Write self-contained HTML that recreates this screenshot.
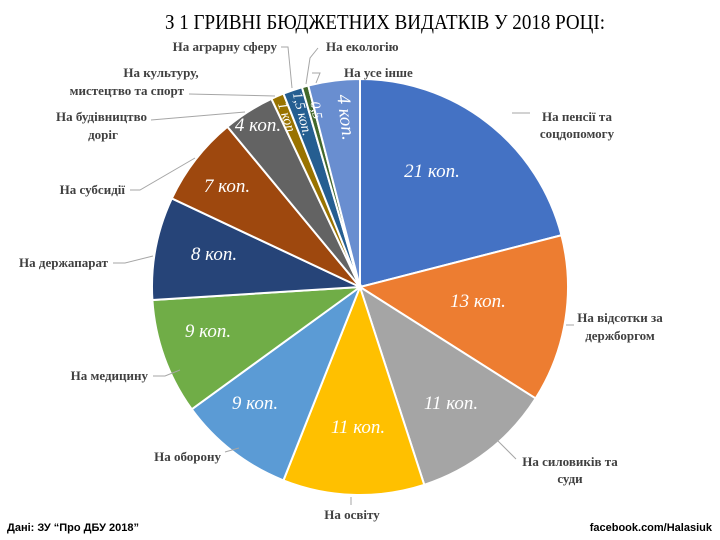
<!DOCTYPE html>
<html><head><meta charset="utf-8">
<style>
html,body{margin:0;padding:0;background:#fff;}
svg{display:block;}
.l{font-family:"Liberation Serif","DejaVu Serif",serif;font-weight:bold;font-size:13px;fill:#404040;}
.v{font-family:"Liberation Serif","DejaVu Serif",serif;font-style:italic;font-size:19px;fill:#fff;}
.s{font-family:"Liberation Serif","DejaVu Serif",serif;font-style:italic;font-size:14px;fill:#fff;}
.ld{stroke:#a6a6a6;stroke-width:1;fill:none;}
</style></head><body>
<svg id="c" width="720" height="540" viewBox="0 0 720 540" xmlns="http://www.w3.org/2000/svg">
<text x="385" y="29" text-anchor="middle" textLength="440" lengthAdjust="spacingAndGlyphs" font-family="Liberation Serif, DejaVu Serif, serif" font-size="21" fill="#000">З 1 ГРИВНІ БЮДЖЕТНИХ ВИДАТКІВ У 2018 РОЦІ:</text>
<g id="w"></g>
<text class="v" x="432" y="177" text-anchor="middle">21 коп.</text>
<text class="v" x="478" y="307" text-anchor="middle">13 коп.</text>
<text class="v" x="451" y="409" text-anchor="middle">11 коп.</text>
<text class="v" x="358" y="433" text-anchor="middle">11 коп.</text>
<text class="v" x="255" y="409" text-anchor="middle">9 коп.</text>
<text class="v" x="208" y="337" text-anchor="middle">9 коп.</text>
<text class="v" x="214" y="260" text-anchor="middle">8 коп.</text>
<text class="v" x="227" y="192" text-anchor="middle">7 коп.</text>
<text class="v" x="258" y="131" text-anchor="middle">4 коп.</text>
<text class="s" transform="translate(283,120) rotate(72)" text-anchor="middle">1 коп.</text>
<text class="s" transform="translate(298,115) rotate(76)" text-anchor="middle">1,5 коп.</text>
<text class="s" transform="translate(312,111) rotate(80)" text-anchor="middle" font-size="8">0,5</text>
<text class="v" transform="translate(340,118) rotate(83)" text-anchor="middle">4 коп.</text>
<path class="ld" d="M312,73 L320,73 L316,83"/>
<path class="ld" d="M318,48 L310,58 L306,84"/>
<path class="ld" d="M281,47 L288,47 L292,88"/>
<path class="ld" d="M189,94 L275,96"/>
<path class="ld" d="M151,120 L245,112"/>
<path class="ld" d="M130,190 L140,190 L195,158"/>
<path class="ld" d="M113,263 L125,263 L153,256"/>
<path class="ld" d="M512,113 L530,113"/>
<path class="ld" d="M566,325 L574,325"/>
<path class="ld" d="M497,440 L516,459"/>
<path class="ld" d="M351,497 L351,505"/>
<path class="ld" d="M225,452 L239,448"/>
<path class="ld" d="M153,376 L165,376 L180,370"/>
<text class="l" x="326" y="51">На екологію</text>
<text class="l" x="344" y="77">На усе інше</text>
<text class="l" x="277" y="51" text-anchor="end">На аграрну сферу</text>
<text class="l" x="161" y="77" text-anchor="middle">На культуру,</text>
<text class="l" x="184" y="95" text-anchor="end">мистецтво та спорт</text>
<text class="l" x="147" y="121" text-anchor="end">На будівництво</text>
<text class="l" x="103" y="139" text-anchor="middle">доріг</text>
<text class="l" x="125" y="194" text-anchor="end">На субсидії</text>
<text class="l" x="108" y="267" text-anchor="end">На держапарат</text>
<text class="l" x="148" y="380" text-anchor="end">На медицину</text>
<text class="l" x="221" y="461" text-anchor="end">На оборону</text>
<text class="l" x="352" y="519" text-anchor="middle">На освіту</text>
<text class="l" x="570" y="466" text-anchor="middle">На силовиків та</text>
<text class="l" x="570" y="483" text-anchor="middle">суди</text>
<text class="l" x="577" y="121" text-anchor="middle">На пенсії та</text>
<text class="l" x="577" y="138" text-anchor="middle">соцдопомогу</text>
<text class="l" x="620" y="322" text-anchor="middle">На відсотки за</text>
<text class="l" x="620" y="340" text-anchor="middle">держборгом</text>
<text x="7" y="531" font-family="Liberation Sans, sans-serif" font-weight="bold" font-size="11" fill="#000">Дані: ЗУ “Про ДБУ 2018”</text>
<text x="712" y="531" text-anchor="end" font-family="Liberation Sans, sans-serif" font-weight="bold" font-size="11" fill="#000">facebook.com/Halasiuk</text>
</svg>
<script>
var d=[[21,"#4472C4"],[13,"#ED7D31"],[11,"#A5A5A5"],[11,"#FFC000"],[9,"#5B9BD5"],[9,"#70AD47"],[8,"#264478"],[7,"#9E480E"],[4,"#636363"],[1,"#997300"],[1.5,"#255E91"],[0.5,"#43682B"],[4,"#698ED0"]];
var cx=360,cy=287,r=208,a=0,g=document.getElementById("w"),s="";
d.forEach(function(e){var a0=a*Math.PI/50,a1=(a+e[0])*Math.PI/50;a+=e[0];
var x0=cx+r*Math.sin(a0),y0=cy-r*Math.cos(a0),x1=cx+r*Math.sin(a1),y1=cy-r*Math.cos(a1);
s+='<path d="M'+cx+','+cy+' L'+x0+','+y0+' A'+r+','+r+' 0 '+(e[0]>50?1:0)+' 1 '+x1+','+y1+' Z" fill="'+e[1]+'" stroke="#fff" stroke-width="2"/>';});
g.innerHTML=s;
</script>
</body></html>
